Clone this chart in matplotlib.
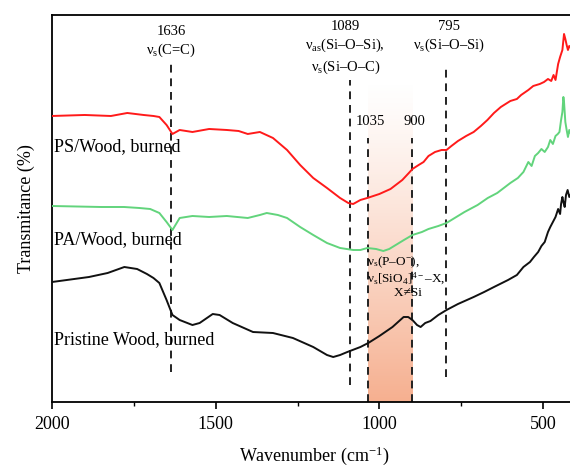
import numpy as np
import matplotlib
matplotlib.use('Agg')
import matplotlib.pyplot as plt
from matplotlib.ticker import MultipleLocator

plt.rcParams['font.family'] = ['Liberation Serif', 'DejaVu Serif']
plt.rcParams['mathtext.fontset'] = 'custom'
plt.rcParams['mathtext.rm'] = 'Liberation Serif'
plt.rcParams['mathtext.it'] = 'Liberation Serif:italic'

# FTIR spectra of burned samples (transmittance, arbitrary offset units)
ps_wn = [2000, 1900, 1820, 1770, 1720, 1690, 1672, 1650, 1632, 1610, 1571, 1520, 1466,
         1430, 1402, 1365, 1325, 1282, 1242, 1202, 1160, 1120, 1095, 1080, 1058, 1037,
         1000, 966, 930, 910, 899, 880, 865, 850, 830, 810, 795, 780, 760, 735, 712,
         690, 670, 650, 629, 600, 580, 567, 545, 530, 510, 497, 485, 475, 468, 462, 458,
         454, 448, 441, 436, 432, 428, 424, 420, 415]
ps_t = [286, 287, 286, 289, 287, 286, 285, 277, 268, 272, 270, 273, 272,
        271, 268, 270, 264, 252, 237, 224, 214, 204, 199, 198, 202, 204,
        208, 213, 222, 229, 233, 237, 240, 246, 250, 252, 252, 256, 261, 266, 270,
        276, 282, 289, 295, 301, 303, 307, 312, 316, 318, 320, 323, 321, 327, 322, 330,
        338, 345, 352, 368, 363, 357, 352, 356, 354]

pa_wn = [2000, 1850, 1780, 1733, 1700, 1672, 1650, 1632, 1610, 1571, 1520, 1466, 1402,
         1365, 1344, 1310, 1282, 1242, 1202, 1160, 1120, 1080, 1058, 1037, 1010, 988,
         970, 950, 925, 899, 870, 850, 820, 795, 770, 740, 700, 669, 640, 620, 600, 577,
         560, 545, 535, 525, 515, 505, 495, 485, 478, 470, 462, 455, 450, 445, 441, 438,
         436, 432, 428, 424, 420, 415]
pa_t = [196, 195, 195, 194, 193, 189, 180, 172, 184, 186, 185, 186, 184,
        187, 189, 187, 184, 175, 167, 159, 154, 152, 152, 154, 153, 151,
        153, 157, 162, 167, 170, 173, 176, 179, 184, 190, 197, 204, 209, 214, 219, 224,
        230, 240, 236, 246, 249, 253, 250, 255, 262, 258, 266, 268, 270, 282, 290, 305,
        300, 280, 272, 265, 272, 268]

pw_wn = [2000, 1887, 1830, 1779, 1740, 1710, 1690, 1672, 1650, 1632, 1610, 1571, 1549,
         1509, 1488, 1448, 1386, 1325, 1264, 1202, 1160, 1141, 1120, 1098, 1058, 1034,
         1000, 960, 926, 912, 899, 885, 874, 860, 844, 820, 795, 760, 712, 680, 650,
         607, 580, 560, 540, 528, 515, 505, 495, 485, 478, 470, 462, 454, 448, 445,
         441, 438, 434, 430, 425, 420, 415]
pw_t = [120, 125, 129, 135, 133, 128, 124, 119, 102, 87, 82, 77, 79,
        88, 87, 79, 70, 69, 64, 55, 47, 45, 47, 50, 55, 59,
        66, 75, 85, 85, 82, 77, 75, 79, 81, 87, 92, 98, 105, 110, 115,
        122, 127, 135, 140, 145, 150, 156, 160, 170, 175, 180, 185, 193, 188, 198,
        205, 200, 195, 207, 212, 205, 208]

series_names = ['PS/Wood, burned', 'PA/Wood, burned', 'Pristine Wood, burned']
series_colors = ['#ff1a1a', '#62d47c', '#111111']
label_y = [255, 162, 62]

band_lo, band_hi = 900, 1035

fig = plt.figure(figsize=(5.7, 4.68), dpi=100)
ax = fig.add_axes([0.0912, 0.141, 0.919, 0.827])

# shaded band between 1035 and 900 cm-1, fading out towards the top
grad = np.zeros((256, 1, 4))
grad[..., 0] = 0.96
grad[..., 1] = 0.62
grad[..., 2] = 0.47
grad[:, 0, 3] = np.linspace(0.85, 0.0, 256) ** 1.2
ax.imshow(grad, extent=[band_hi, band_lo, 0, 320], aspect='auto', origin='lower', zorder=1)

for wn, t, c in zip([ps_wn, pa_wn, pw_wn], [ps_t, pa_t, pw_t], series_colors):
    ax.plot(wn, t, color=c, lw=1.4, zorder=3)

for name, y in zip(series_names, label_y):
    ax.text(1993, y, name, fontsize=13, ha='left', va='center', zorder=4)

# marker lines for the assigned bands
dash = dict(color='#222222', lw=1.4, ls=(0, (4, 3)), zorder=2)
ax.plot([1636, 1636], [30, 339], **dash)
ax.plot([1089, 1089], [17, 322], **dash)
ax.plot([1035, 1035], [0, 264], **dash)
ax.plot([900, 900], [0, 264], **dash)
ax.plot([795, 795], [25, 337], **dash)

fs = 10.5
ax.text(1636, 370, '1636', fontsize=fs, ha='center', va='center')
ax.text(1636, 352, r'ν$_{\rm s}$(C=C)', fontsize=fs, ha='center', va='center')
ax.text(1104, 375, '1089', fontsize=fs, ha='center', va='center')
ax.text(1104, 357, r'ν$_{\rm as}$(Si–O–Si),', fontsize=fs, ha='center', va='center')
ax.text(1104, 335, r'ν$_{\rm s}$(Si–O–C)', fontsize=fs, ha='center', va='center')
ax.text(788, 375, '795', fontsize=fs, ha='center', va='center')
ax.text(788, 357, r'ν$_{\rm s}$(Si–O–Si)', fontsize=fs, ha='center', va='center')
ax.text(1028, 280, '1035', fontsize=fs, ha='center', va='center')
ax.text(893, 280, '900', fontsize=fs, ha='center', va='center')

# assignment for the shaded band, one text block
ax.text(1037, 125,
        'ν$_{\\rm s}$(P–O$^{-}$),\nν$_{\\rm s}$[SiO$_4$]$^{4-}$–X,\n        X≠Si',
        fontsize=9.5, ha='left', va='center', linespacing=1.05, zorder=4)

ax.set_xlim(2000, 400)
ax.set_ylim(0, 387)
ax.xaxis.set_major_locator(MultipleLocator(500))
ax.xaxis.set_minor_locator(MultipleLocator(250))
ax.set_yticks([])
ax.tick_params(axis='x', which='major', direction='out', length=5, width=1.2, labelsize=13, pad=5)
ax.tick_params(axis='x', which='minor', direction='out', length=3, width=1.0)
for s in ax.spines.values():
    s.set_linewidth(1.3)
ax.set_xlabel('Wavenumber (cm$^{-1}$)', fontsize=13, labelpad=8)
ax.set_ylabel('Transmitance (%)', fontsize=13, labelpad=12)

fig.savefig('out.png', dpi=100)
